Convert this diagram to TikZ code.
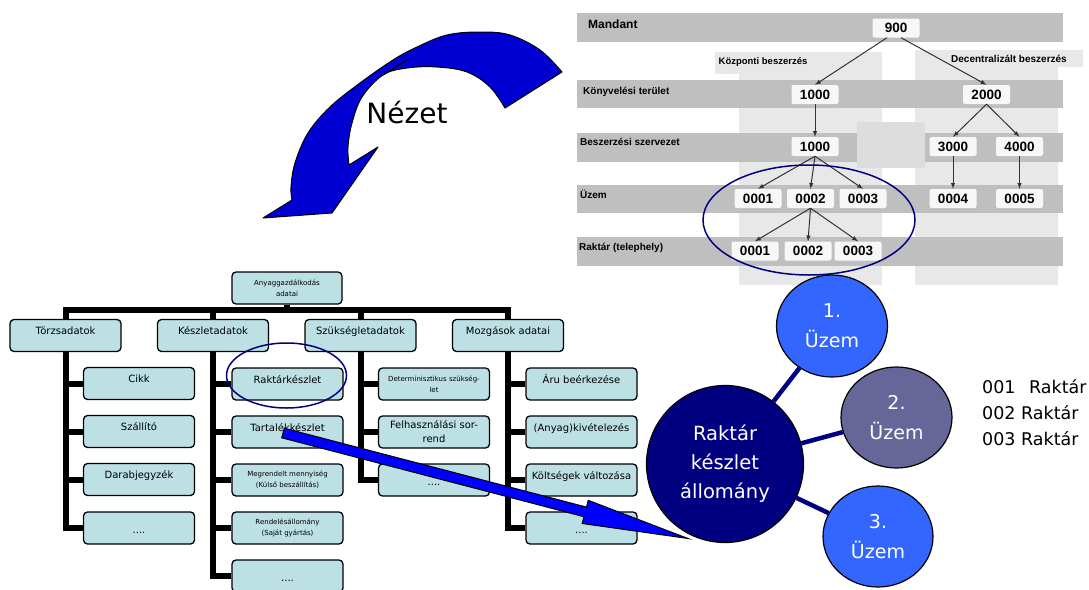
\documentclass[tikz,border=0pt]{standalone}
\usepackage{fontspec}
\setmainfont{DejaVu Sans}
\newfontfamily\arialfont{Liberation Sans}
\usepackage{xcolor}
\usepackage{tikz}
\usetikzlibrary{calc, shapes.geometric}

\definecolor{boxfill}{HTML}{BCE0E3}
\definecolor{navyblue}{HTML}{000080}
\definecolor{plantblue}{HTML}{3366FF}
\definecolor{plantslate}{HTML}{666699}
\definecolor{viewblue}{HTML}{0000D2}
\definecolor{linegray}{HTML}{333333}

\begin{document}
\begin{tikzpicture}[x=1pt, y=-1pt, >=latex,
    chbox/.style={draw, line width=1.3pt, rounded corners=4pt, fill=boxfill,
        minimum width=111pt, minimum height=32pt, inner sep=1pt, align=center,
        font=\fontsize{10}{14}\selectfont},
    onerow/.style={text height=7.5pt, text depth=9pt},
    dotbox/.style={text height=10pt, text depth=0pt},
    smalltxt/.style={font=\fontsize{7}{11}\selectfont},
    treeline/.style={line width=6pt},
    bandrow/.style={fill=gray!50},
    lightcol/.style={fill=gray!18},
    numbox/.style={fill=white!97!black, rounded corners=2pt, minimum width=47pt,
        minimum height=19pt, inner sep=0pt,
        font=\arialfont\bfseries\fontsize{13.5}{14}\selectfont},
    rowlabel/.style={anchor=west, inner sep=0pt,
        font=\arialfont\bfseries\fontsize{10}{12}\selectfont},
    orgarrow/.style={->, line width=1pt, draw=linegray},
    plant/.style={draw, line width=1.2pt, ellipse, text=white, align=center,
        inner sep=0pt, font=\fontsize{19}{30}\selectfont},
    plantlink/.style={line width=4.5pt, draw=navyblue}
]
    \useasboundingbox (0,0) rectangle (1089,589);
    \clip (0,0) rectangle (1089,589);

    % 1. Szervezeti szintek (szürke sávok) jobb felül
    \fill[lightcol] (739,52) rectangle (882,285);
    \fill[lightcol] (915,52) rectangle (1058,285);
    \fill[lightcol] (715,52) rectangle (739,74);
    \fill[lightcol] (915,50) rectangle (1083,67);
    \fill[bandrow] (577,13) rectangle (1063,42);
    \fill[bandrow] (577,80) rectangle (1063,108);
    \fill[bandrow] (577,133) rectangle (857,162);
    \fill[bandrow] (925,133) rectangle (1063,162);
    \fill[gray!27] (857,122) rectangle (925,168);
    \fill[bandrow] (577,185) rectangle (1063,213);
    \fill[bandrow] (577,237) rectangle (1063,266);

    % Sávok feliratai
    \node[rowlabel, font=\arialfont\bfseries\fontsize{12}{14}\selectfont] at (588,24) {Mandant};
    \node[rowlabel] at (583,92) {Könyvelési terület};
    \node[rowlabel] at (580,142) {Beszerzési szervezet};
    \node[rowlabel] at (580,194) {Üzem};
    \node[rowlabel] at (579,248) {Raktár (telephely)};
    \node[rowlabel, anchor=center, font=\arialfont\bfseries\fontsize{9.5}{12}\selectfont] at (763,62) {Központi beszerzés};
    \node[rowlabel, anchor=center] at (1009,59) {Decentralizált beszerzés};

    % Szervezeti egységek
    \node[numbox] (n900) at (896,28) {900};
    \node[numbox] (k1000) at (815,94.5) {1000};
    \node[numbox] (k2000) at (986.5,94.5) {2000};
    \node[numbox] (b1000) at (815,146.5) {1000};
    \node[numbox] (b3000) at (953,146.5) {3000};
    \node[numbox] (b4000) at (1019.5,146.5) {4000};
    \node[numbox] (u1) at (758,198.5) {0001};
    \node[numbox] (u2) at (810.5,198.5) {0002};
    \node[numbox] (u3) at (863,198.5) {0003};
    \node[numbox] (u4) at (953,198.5) {0004};
    \node[numbox] (u5) at (1019.5,198.5) {0005};
    \node[numbox] (r1) at (755,251) {0001};
    \node[numbox] (r2) at (808,251) {0002};
    \node[numbox] (r3) at (858,251) {0003};

    % Nyilak a szintek között
    \draw[orgarrow] ([xshift=-9pt]n900.south) -- (k1000.north);
    \draw[orgarrow] ([xshift=5pt]n900.south) -- (k2000.north);
    \draw[orgarrow] (k1000.south) -- (b1000.north);
    \draw[orgarrow] (k2000.south) -- (b3000.north);
    \draw[orgarrow] (k2000.south) -- (b4000.north);
    \foreach \u in {u1, u2, u3}
        \draw[orgarrow] (b1000.south) -- (\u.north);
    \draw[orgarrow] (b3000.south) -- (u4.north);
    \draw[orgarrow] (b4000.south) -- (u5.north);
    \foreach \r in {r1, r2, r3}
        \draw[orgarrow] (u2.south) -- (\r.north);

    % Kiemelés (ellipszis)
    \draw[navyblue, line width=1.5pt] (809,220) ellipse [x radius=106, y radius=55];

    % 2. Anyaggazdálkodás adatai (fa) bal lent
    \node[chbox, smalltxt, minimum width=110pt] (root) at (287,288) {Anyaggazdálkodás\\adatai};
    \node[chbox, onerow] (torzs) at (65.5,335.5) {Törzsadatok};
    \node[chbox, onerow] (keszlet) at (213,335.5) {Készletadatok};
    \node[chbox, onerow] (szukseglet) at (360.5,335.5) {Szükségletadatok};
    \node[chbox, onerow] (mozgas) at (508,335.5) {Mozgások adatai};

    % Törzsadatok ága
    \node[chbox, onerow] (cikk) at (139,383.5) {Cikk};
    \node[chbox, onerow] (szallito) at (139,431.5) {Szállító};
    \node[chbox, onerow] (darab) at (139,479.5) {Darabjegyzék};
    \node[chbox, dotbox] (tdots) at (139,528) {....};

    % Készletadatok ága
    \node[chbox, onerow] (raktar) at (287.5,384) {Raktárkészlet};
    \node[chbox, onerow] (tartalek) at (287.5,432) {Tartalékkészlet};
    \node[chbox, smalltxt] (megrend) at (287.5,480) {Megrendelt mennyiség\\(Külső beszállítás)};
    \node[chbox, smalltxt] (rendeles) at (287.5,528) {Rendelésállomány\\(Saját gyártás)};
    \node[chbox, dotbox] (kdots) at (287.5,576) {....};

    % Szükségletadatok ága
    \node[chbox, smalltxt] (determ) at (434,384) {Determinisztikus szükség-\\let};
    \node[chbox] (felhasz) at (434,432) {Felhasználási sor-\\rend};
    \node[chbox, dotbox] (sdots) at (434,480) {....};

    % Mozgások adatai ága
    \node[chbox, onerow] (aru) at (581.5,384) {Áru beérkezése};
    \node[chbox, onerow] (kivetel) at (581.5,432) {(Anyag)kivételezés};
    \node[chbox, onerow] (koltseg) at (581.5,480) {Költségek változása};
    \node[chbox, dotbox] (mdots) at (581.5,528) {....};

    % Összekötő vonalak
    \coordinate (busline) at (0,310);
    \draw[treeline] (root.south) -- (root.south |- busline);
    \draw[treeline] (torzs.north) |- (mozgas.north |- busline) -- (mozgas.north);
    \draw[treeline] (keszlet.north) -- (keszlet.north |- busline);
    \draw[treeline] (szukseglet.north) -- (szukseglet.north |- busline);
    \foreach \c in {cikk, szallito, darab, tdots}
        \draw[treeline] (torzs.south) |- (\c.west);
    \foreach \c in {raktar, tartalek, megrend, rendeles, kdots}
        \draw[treeline] (keszlet.south) |- (\c.west);
    \foreach \c in {determ, felhasz, sdots}
        \draw[treeline] (szukseglet.south) |- (\c.west);
    \foreach \c in {aru, kivetel, koltseg, mdots}
        \draw[treeline] (mozgas.south) |- (\c.west);

    % Raktárkészlet kiemelése
    \draw[navyblue, line width=1.5pt] (286.5,375.5) ellipse [x radius=60, y radius=32.5];

    % 3. Nézet nyíl (ívelt)
    \draw[fill=viewblue, line width=1pt, line join=round]
        plot[smooth, tension=0.6] coordinates {(562,72) (540,50) (510,35) (480,32) (447,35)
            (417,47) (393,60) (360,83) (330,107) (308,133) (295,163) (291,187) (292,200)}
        -- (263,218) -- (332,213) -- (378,147)
        -- plot[smooth, tension=0.6] coordinates {(349,165) (348,147) (352,123) (362,97)
            (383,75) (407,68) (437,67) (467,72) (490,87) (505,108)}
        -- cycle;
    \draw[line width=1pt] (383,75) -- (407,60);
    \node[font=\fontsize{28}{30}\selectfont] (nezet) at (407,112) {Nézet};

    % 4. Raktárkészlet állomány és az üzemek
    \node[plant, circle, fill=navyblue, minimum size=157pt,
        font=\fontsize{19.5}{29}\selectfont] (allomany) at (725,464) {Raktár\\készlet\\állomány};
    \node[plant, fill=plantblue, minimum width=111pt, minimum height=102pt] (plant1) at (832,326) {1.\\Üzem};
    \node[plant, fill=plantslate, minimum width=111pt, minimum height=101pt] (plant2) at (896.5,417.5) {2.\\Üzem};
    \node[plant, fill=plantblue, minimum width=110pt, minimum height=101pt] (plant3) at (878,536.5) {3.\\Üzem};
    \foreach \p in {plant1, plant2, plant3}
        \draw[plantlink] (allomany) -- (\p);

    \node[anchor=west, align=left, inner sep=0pt, font=\fontsize{17.5}{26}\selectfont]
        (legend) at (982,413) {001\hspace{8pt} Raktár\\002 Raktár\\003 Raktár};

    % 5. Egyenes nyíl a Tartalékkészlettől
    \draw[fill=blue, line width=1pt, line join=miter]
        (284.3,428.2) -- (586.5,507.1) -- (588.2,500.3) -- (688,538.5)
        -- (582.2,523.5) -- (583.9,516.7) -- (281.7,437.8) -- cycle;
\end{tikzpicture}
\end{document}
